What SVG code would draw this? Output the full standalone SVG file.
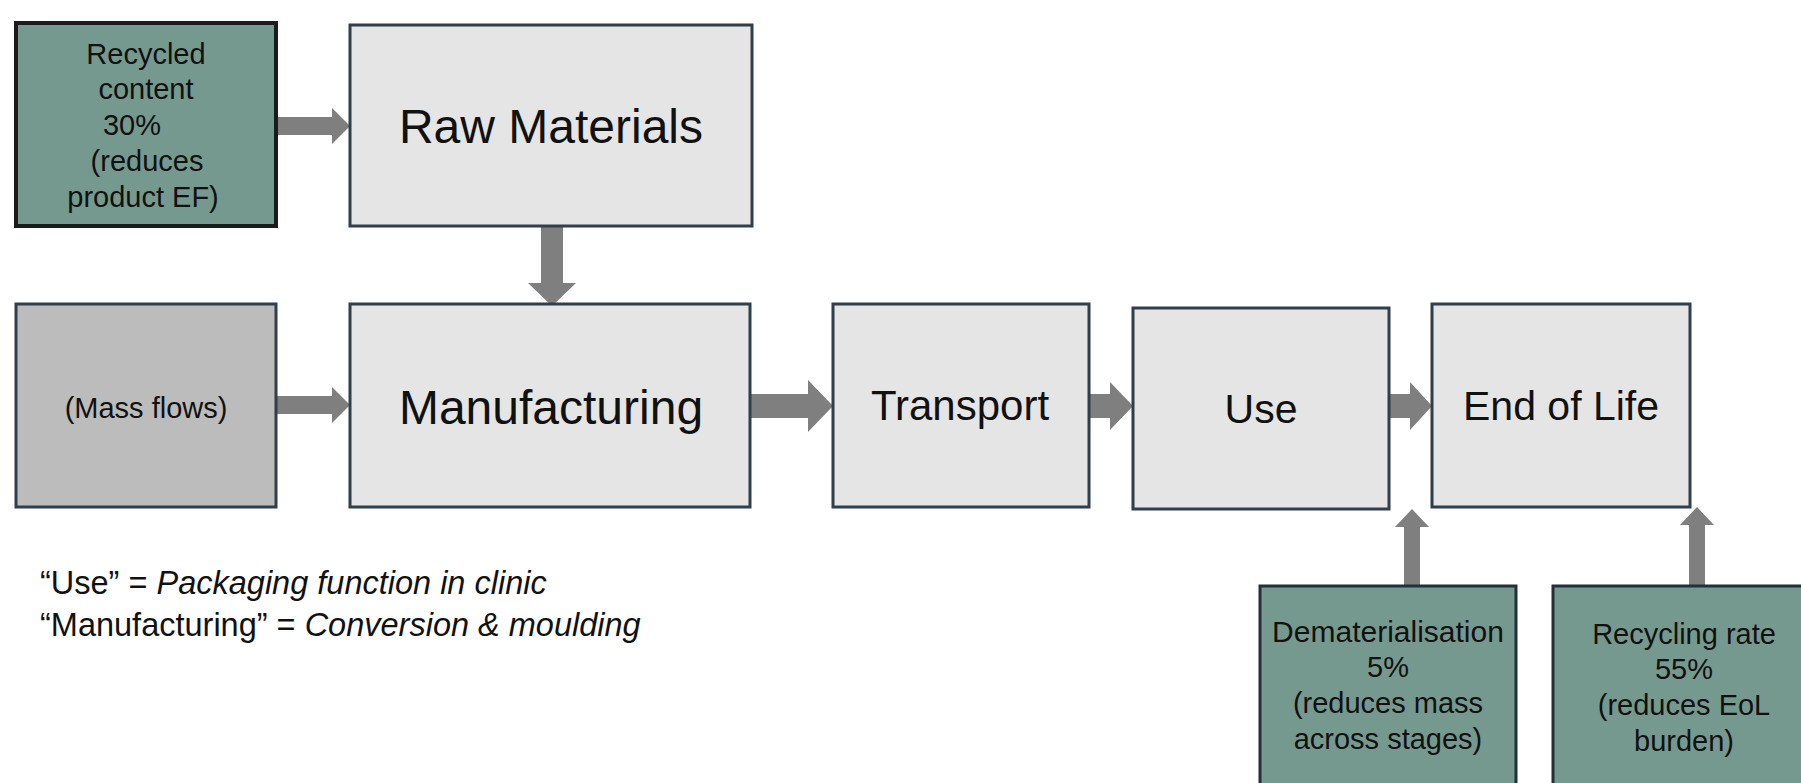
<svg xmlns="http://www.w3.org/2000/svg" width="1801" height="783" viewBox="0 0 1801 783">
  <style>
    .stage { fill: #e5e5e5; stroke: #2f3f4b; stroke-width: 3; }
    .lever { fill: #76998f; stroke: #223038; stroke-width: 3; }
    .input { fill: #bcbcbc; stroke: #2f3f4b; stroke-width: 3; }
    .arrow { fill: #7f7f7f; }
    text { font-family: "Liberation Sans", Arial, sans-serif; fill: #111; text-anchor: middle; }
    .big { font-size: 48px; }
    .mid { font-size: 41px; }
    .small { font-size: 29px; }
    .note { font-size: 32.5px; text-anchor: start; }
    .note tspan.it { font-style: italic; }
  </style>

  <rect width="1801" height="783" fill="#ffffff"/>

  <!-- connectors: block arrows -->
  <g id="connectors">
    <!-- recycled content -> raw materials -->
    <path class="arrow" d="M276,117 H332 V108 L350,126 L332,144 V135 H276 Z"/>
    <!-- raw materials -> manufacturing -->
    <path class="arrow" d="M541,226 H563 V283 H576 L552,306 L528,283 H541 Z"/>
    <!-- mass flows -> manufacturing -->
    <path class="arrow" d="M276,396 H332 V387 L350,405 L332,423 V414 H276 Z"/>
    <!-- manufacturing -> transport -->
    <path class="arrow" d="M750,394 H808 V380 L833,406 L808,432 V418 H750 Z"/>
    <!-- transport -> use -->
    <path class="arrow" d="M1089,394 H1110 V382 L1133,406 L1110,430 V418 H1089 Z"/>
    <!-- use -> end of life -->
    <path class="arrow" d="M1389,394 H1410 V382 L1432,406 L1410,430 V418 H1389 Z"/>
    <!-- dematerialisation -> use -->
    <path class="arrow" d="M1404,586 V527 H1395 L1412,509 L1429,527 H1420 V586 Z"/>
    <!-- recycling rate -> end of life -->
    <path class="arrow" d="M1689,586 V525 H1680 L1697,507 L1714,525 H1705 V586 Z"/>
  </g>

  <g id="recycled-content">
    <rect class="lever" x="16" y="23" width="260" height="203" style="stroke:#1b1b1b;stroke-width:4"/>
    <text class="small" x="146" y="64">Recycled</text>
    <text class="small" x="146" y="99">content</text>
    <text class="small" x="132" y="135">30%</text>
    <text class="small" x="147" y="171">(reduces</text>
    <text class="small" x="143" y="207">product EF)</text>
  </g>

  <g id="raw-materials">
    <rect class="stage" x="350" y="25" width="402" height="201"/>
    <text class="big" x="551" y="143">Raw Materials</text>
  </g>

  <g id="mass-flows">
    <rect class="input" x="16" y="304" width="260" height="203"/>
    <text class="small" x="146" y="418">(Mass flows)</text>
  </g>

  <g id="manufacturing">
    <rect class="stage" x="350" y="304" width="400" height="203"/>
    <text class="big" x="551" y="424">Manufacturing</text>
  </g>

  <g id="transport">
    <rect class="stage" x="833" y="304" width="256" height="203"/>
    <text class="mid" x="960" y="420" style="font-size:42px">Transport</text>
  </g>

  <g id="use">
    <rect class="stage" x="1133" y="308" width="256" height="201"/>
    <text class="mid" x="1261" y="423">Use</text>
  </g>

  <g id="end-of-life">
    <rect class="stage" x="1432" y="304" width="258" height="203"/>
    <text class="mid" x="1561" y="420">End of Life</text>
  </g>

  <g id="dematerialisation">
    <rect class="lever" x="1260" y="586" width="256" height="220"/>
    <text class="small" x="1388" y="642" style="font-size:30px">Dematerialisation</text>
    <text class="small" x="1388" y="677">5%</text>
    <text class="small" x="1388" y="713">(reduces mass</text>
    <text class="small" x="1388" y="749">across stages)</text>
  </g>

  <g id="recycling-rate">
    <rect class="lever" x="1553" y="586" width="262" height="220"/>
    <text class="small" x="1684" y="644">Recycling rate</text>
    <text class="small" x="1684" y="679">55%</text>
    <text class="small" x="1684" y="715">(reduces EoL</text>
    <text class="small" x="1684" y="751">burden)</text>
  </g>

  <g id="notes">
    <text class="note" x="40" y="594">“Use” = <tspan class="it">Packaging function in clinic</tspan></text>
    <text class="note" x="40" y="636">“Manufacturing” = <tspan class="it">Conversion &amp; moulding</tspan></text>
  </g>
</svg>
